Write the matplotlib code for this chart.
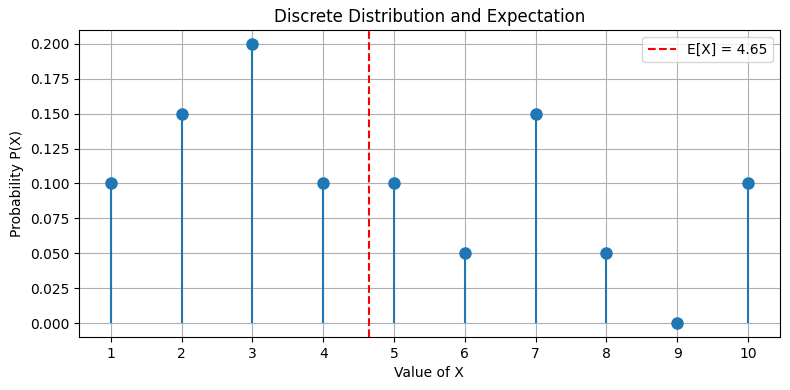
import numpy as np
import matplotlib.pyplot as plt

# values of X and their probabilities
x_values = [1, 2, 3, 4, 5, 6, 7, 8, 9, 10]
probs = [0.10, 0.15, 0.20, 0.10, 0.10, 0.05, 0.15, 0.05, 0.00, 0.10]

expectation = np.sum(np.array(x_values) * np.array(probs))

fig, ax = plt.subplots(figsize=(7.9, 3.9), dpi=100)

markerline, stemlines, baseline = ax.stem(x_values, probs, basefmt=" ")
plt.setp(markerline, markersize=8)

ax.axvline(expectation, color='red', linestyle='--', label=f'E[X] = {expectation:.2f}')

ax.set_title('Discrete Distribution and Expectation')
ax.set_xlabel('Value of X')
ax.set_ylabel('Probability P(X)')
ax.set_xticks(x_values)
ax.grid(True)
ax.legend(loc='upper right')

fig.subplots_adjust(left=0.1, right=0.987, top=0.923, bottom=0.136)
plt.savefig('out.png')
